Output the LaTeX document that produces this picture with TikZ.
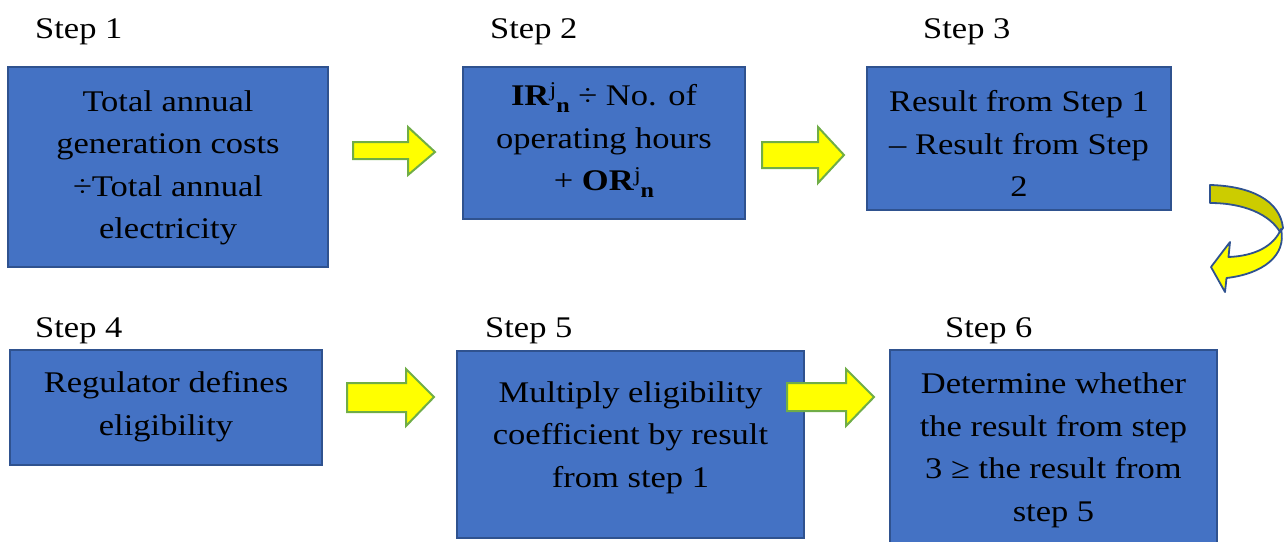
\documentclass[tikz,border=0pt]{standalone}
\usepackage{fontspec}
\setmainfont{Liberation Serif}[FakeStretch=1.15]
\definecolor{boxfill}{HTML}{4472C4}
\definecolor{boxline}{HTML}{2F528F}
\definecolor{arrowfill}{HTML}{FFFF00}
\definecolor{arrowline}{HTML}{70AD47}
\definecolor{curvedark}{HTML}{CCCC00}
\newcommand{\jnidx}{\raisebox{0.32em}{\fontsize{21}{21}\selectfont j}\raisebox{-0.22em}{\fontsize{21}{21}\selectfont\bfseries n}}
\tikzset{
  stepbox/.style={draw=boxline, fill=boxfill, line width=1.5pt, inner sep=0pt},
  boxtext/.style={font=\fontsize{30}{42.5}\selectfont, align=center, inner sep=0pt,
    execute at begin node=\strut, execute at end node=\strut},
  steplabel/.style={font=\fontsize{30}{36}\selectfont, anchor=base west, inner sep=0pt},
  blockarrow/.style={draw=arrowline, fill=arrowfill, line width=2pt, line join=miter},
  curvearrow/.style={draw=boxline, line width=1.8pt, line join=round}
}
\begin{document}
\begin{tikzpicture}[x=1pt,y=-1pt]
\useasboundingbox (0,0) rectangle (1285,541);
% step labels
\node[steplabel] (l1) at (35,38) {Step 1};
\node[steplabel] (l2) at (490,38) {Step 2};
\node[steplabel] (l3) at (923,38) {Step 3};
\node[steplabel] (l4) at (35,337) {Step 4};
\node[steplabel] (l5) at (485,337) {Step 5};
\node[steplabel] (l6) at (945,337) {Step 6};
% boxes
\node[stepbox, minimum width=320pt, minimum height=200pt] (b1) at (168,167) {};
\node[stepbox, minimum width=282pt, minimum height=152pt] (b2) at (604,143) {};
\node[stepbox, minimum width=304pt, minimum height=143pt] (b3) at (1019,138.5) {};
\node[stepbox, minimum width=312pt, minimum height=115pt] (b4) at (166,407.5) {};
\node[stepbox, minimum width=347pt, minimum height=187pt] (b5) at (630.5,444.5) {};
\node[stepbox, minimum width=327pt, minimum height=220pt] (b6) at (1053.5,460) {};
% box texts
\node[boxtext] (t1) at (168,171) {Total annual\\generation costs\\÷Total annual\\electricity};
\node[boxtext] (t2) at (604,143) {\textbf{IR}\jnidx{} ÷ No. of\\operating hours\\+ \textbf{OR}\jnidx};
\node[boxtext] (t3) at (1019,150) {Result from Step 1\\– Result from Step\\2};
\node[boxtext] (t4) at (166,410) {Regulator defines\\eligibility};
\node[boxtext] (t5) at (630.5,440.5) {Multiply eligibility\\coefficient by result\\from step 1};
\node[boxtext] (t6) at (1053.5,453.5) {Determine whether\\the result from step\\3 ≥ the result from\\step 5};
% block arrows
\draw[blockarrow] (353,142) -- (408,142) -- (408,127) -- (435,152) -- (408,175) -- (408,159) -- (353,159) -- cycle;
\draw[blockarrow] (762,142) -- (818,142) -- (818,127) -- (844,155) -- (818,183) -- (818,168) -- (762,168) -- cycle;
\draw[blockarrow] (347,383) -- (406,383) -- (406,369) -- (434,397) -- (406,426) -- (406,412) -- (347,412) -- cycle;
\draw[blockarrow] (787,383) -- (846,383) -- (846,369) -- (874,397) -- (846,426) -- (846,411) -- (787,411) -- cycle;
% curved arrow from step 3 down to step 4 row
\draw[curvearrow, fill=curvedark] (1210,185) .. controls (1250,186) and (1280,200) .. (1283,228)
  -- (1280,232) .. controls (1270,215) and (1245,203) .. (1210,203) -- cycle;
\draw[curvearrow, fill=arrowfill] (1281,229) .. controls (1287,256) and (1262,274) .. (1226.5,278)
  -- (1225,292) -- (1211,267) -- (1230,242) -- (1228.5,257)
  .. controls (1255,256) and (1274,246) .. (1281,229) -- cycle;
\end{tikzpicture}
\end{document}
